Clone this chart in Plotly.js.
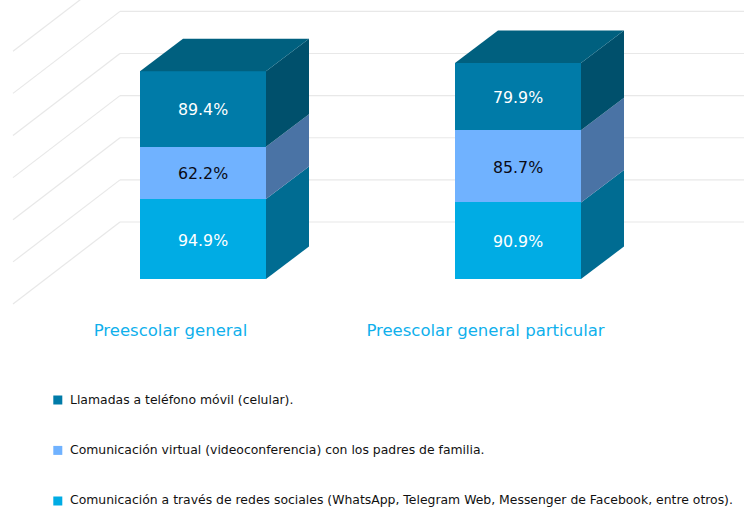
<!DOCTYPE html>
<html><head><meta charset="utf-8">
<script src="https://cdn.plot.ly/plotly-3.0.1.min.js"></script>
<style>html,body{margin:0;padding:0;background:#fff}#c{width:744px;height:510px}</style>
</head><body><div id="c"></div>
<script>
// Data
const categories = ['Preescolar general', 'Preescolar general particular'];
const seriesNames = [
  'Comunicación a través de redes sociales (WhatsApp, Telegram Web, Messenger de Facebook, entre otros).',
  'Comunicación virtual (videoconferencia) con los padres de familia.',
  'Llamadas a teléfono móvil (celular).'
];
const redesSociales = [94.9, 90.9];
const virtualPadres = [62.2, 85.7];
const llamadas = [89.4, 79.9];
const gridLevels = [0, 50, 100, 150, 200, 250];
const frontColors = ['#00ACE4', '#70B2FF', '#007BA8'];
const sideColors = ['#006C92', '#4A73A5', '#00506C'];
const topColor = '#00607F';
const labelColors = ['#ffffff', '#0a0a14', '#ffffff'];

// Scale of the page and of the faux-3D projection
const W = 744, H = 510, plotH = 310;
const pxPerCat = 315, pxPerUnit = 0.8425;
const x0px = 203, y0px = 279;
const barW = 126 / pxPerCat;
const depthX = 43 / pxPerCat, depthY = 32.5 / pxPerUnit;
const wallX = (120 - x0px) / pxPerCat, wallY = (y0px - 222) / pxPerUnit;
const floorX = (13 - x0px) / pxPerCat, floorY = (y0px - 304) / pxPerUnit;
const labelShift = 32.5 / pxPerCat;
const FONT = '"DejaVu Sans", sans-serif';
const xRange = [-x0px / pxPerCat, (W - x0px) / pxPerCat];
const yRange = [(y0px - plotH) / pxPerUnit, y0px / pxPerUnit];
const idx = categories.map((_, i) => i);
const series = [redesSociales, virtualPadres, llamadas];

const annotations = [];
const traces = [];
series.forEach((vals, s) => {
  traces.push({
    type: 'bar', x: idx, y: vals, width: barW, name: seriesNames[s],
    marker: {color: frontColors[s]},
    hoverinfo: 'skip', showlegend: false
  });
});
idx.forEach(i => {
  let base = 0;
  const r = i + barW / 2;
  series.forEach((vals, s) => {
    const top = base + vals[i];
    traces.push({
      type: 'scatter', mode: 'lines', fill: 'toself', fillcolor: sideColors[s], line: {width: 0},
      x: [r, r + depthX, r + depthX, r, r],
      y: [base, base + depthY, top + depthY, top, base],
      hoverinfo: 'skip', showlegend: false
    });
    annotations.push({xref: 'x', yref: 'y', x: i, y: (base + top) / 2, yshift: -1,
      xanchor: 'center', yanchor: 'middle', showarrow: false,
      text: vals[i].toFixed(1) + '%',
      font: {family: FONT, size: 15.8, color: labelColors[s]}});
    base = top;
  });
  const l = i - barW / 2;
  traces.push({
    type: 'scatter', mode: 'lines', fill: 'toself', fillcolor: topColor, line: {width: 0},
    x: [l, r, r + depthX, l + depthX, l],
    y: [base, base, base + depthY, base + depthY, base],
    hoverinfo: 'skip', showlegend: false
  });
});

const gridLine = {color: '#e8e8e8', width: 1.2};
const shapes = [];
const step = gridLevels[1] - gridLevels[0];
gridLevels.concat([gridLevels[gridLevels.length - 1] + step]).forEach(lv => {
  shapes.push({type: 'line', layer: 'below', xref: 'x', yref: 'y',
    x0: floorX, y0: floorY + lv, x1: wallX, y1: wallY + lv, line: gridLine});
  shapes.push({type: 'line', layer: 'below', xref: 'x', yref: 'y',
    x0: wallX, y0: wallY + lv, x1: xRange[1], y1: wallY + lv, line: gridLine});
});

// Legend rows, top to bottom
const rowY = [399, 449.4, 500];
const rowOrder = [2, 1, 0];
const py = y => (plotH - y) / plotH;
rowOrder.forEach((s, r) => {
  shapes.push({type: 'rect', xref: 'paper', yref: 'paper', layer: 'above',
    x0: 53.3 / W, x1: 62.3 / W, y0: py(rowY[r] - 3.5), y1: py(rowY[r] + 5.5),
    fillcolor: frontColors[s], line: {width: 0}});
  annotations.push({xref: 'paper', yref: 'paper', x: 68 / W, y: py(rowY[r]), xanchor: 'left', yanchor: 'middle',
    text: seriesNames[s], showarrow: false, font: {family: FONT, size: 12.42, color: '#111111'}});
});

Plotly.newPlot('c', traces, {
  width: W, height: H, barmode: 'stack', showlegend: false,
  paper_bgcolor: '#ffffff', plot_bgcolor: '#ffffff',
  margin: {l: 0, r: 0, t: 0, b: H - plotH, pad: 0},
  xaxis: {range: xRange, showgrid: false, zeroline: false, showline: false,
    tickmode: 'array', tickvals: idx.map(i => i - labelShift), ticktext: categories,
    ticks: 'outside', ticklen: 5.5, tickcolor: 'rgba(0,0,0,0)',
    tickfont: {family: FONT, size: 16.5, color: '#0FB0EC'}},
  yaxis: {range: yRange, visible: false, showgrid: false, zeroline: false},
  shapes, annotations
}, {displayModeBar: false, staticPlot: true});
</script></body></html>
